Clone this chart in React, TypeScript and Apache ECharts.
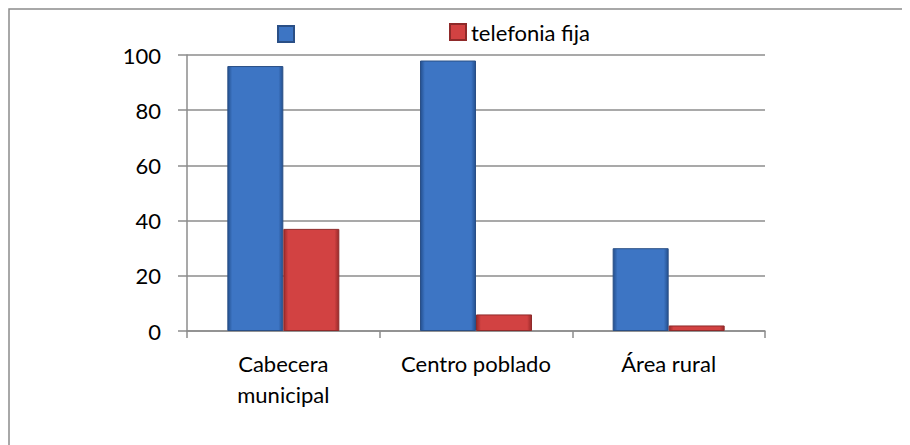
import React, { useEffect, useRef } from "react";
import * as echarts from "echarts";

const categories = ["Cabecera\nmunicipal", "Centro poblado", "Área rural"];
const seriesNames = [" ", "telefonia fija"];
const blueValues = [96, 98, 30];
const redValues = [37, 6, 2];
const yTicks = { min: 0, max: 100, interval: 20 };

const FONT = "Lato, 'Noto Sans', sans-serif";

function grad(dark: string, main: string) {
  return new echarts.graphic.LinearGradient(0, 0, 1, 0, [
    { offset: 0, color: dark },
    { offset: 0.08, color: main },
    { offset: 0.92, color: main },
    { offset: 1, color: dark },
  ]);
}

export default function App() {
  const ref = useRef<HTMLDivElement>(null);
  useEffect(() => {
    if (!ref.current) return;
    const chart = echarts.init(ref.current, null, { renderer: "svg" });
    chart.setOption({
      animation: false,
      backgroundColor: "#fff",
      textStyle: { fontFamily: FONT },
      graphic: [
        {
          type: "rect",
          shape: { x: 1, y: 1, width: 1200, height: 1200 },
          style: { fill: "none", stroke: "#8c8c8c", lineWidth: 1.5 },
          silent: true,
        },
      ],
      legend: [
        {
          left: 269,
          top: 15,
          padding: 0,
          data: [seriesNames[0]],
          itemWidth: 16,
          itemHeight: 16,
          icon: "rect",
          textStyle: { fontSize: 22, color: "#000", fontFamily: FONT },
        },
        {
          left: 441,
          top: 13,
          padding: 0,
          data: [seriesNames[1]],
          itemWidth: 16,
          itemHeight: 16,
          icon: "rect",
          textStyle: { fontSize: 22, color: "#000", fontFamily: FONT },
        },
      ],
      grid: { left: 179, right: 145, top: 47, bottom: 114, containLabel: false },
      xAxis: {
        type: "category",
        data: categories,
        axisLine: { lineStyle: { color: "#8c8c8c", width: 1.5 } },
        axisTick: { show: true, length: 7, lineStyle: { color: "#8c8c8c", width: 1.5 } },
        axisLabel: {
          fontSize: 22,
          color: "#000",
          margin: 17,
          lineHeight: 31,
          fontFamily: FONT,
          interval: 0,
        },
      },
      yAxis: {
        type: "value",
        min: yTicks.min,
        max: yTicks.max,
        interval: yTicks.interval,
        axisLine: { show: true, lineStyle: { color: "#8c8c8c", width: 1.5 } },
        axisTick: { show: true, length: 9, lineStyle: { color: "#8c8c8c", width: 1.5 } },
        splitLine: { lineStyle: { color: "#8c8c8c", width: 1.5 } },
        axisLabel: { fontSize: 22, color: "#000", margin: 26, fontFamily: FONT },
      },
      series: [
        {
          name: seriesNames[0],
          type: "bar",
          data: blueValues,
          barWidth: 56,
          barGap: "0%",
          barCategoryGap: "42%",
          itemStyle: {
            color: grad("#24508f", "#3d75c4"),
            borderColor: "#2a4f86",
            borderWidth: 1,
          },
        },
        {
          name: seriesNames[1],
          type: "bar",
          data: redValues,
          barWidth: 56,
          itemStyle: {
            color: grad("#9a2a2a", "#d24242"),
            borderColor: "#8f2a2a",
            borderWidth: 1,
          },
        },
      ],
    });
    return () => chart.dispose();
  }, []);
  return <div ref={ref} style={{ width: 902, height: 437 }} />;
}
